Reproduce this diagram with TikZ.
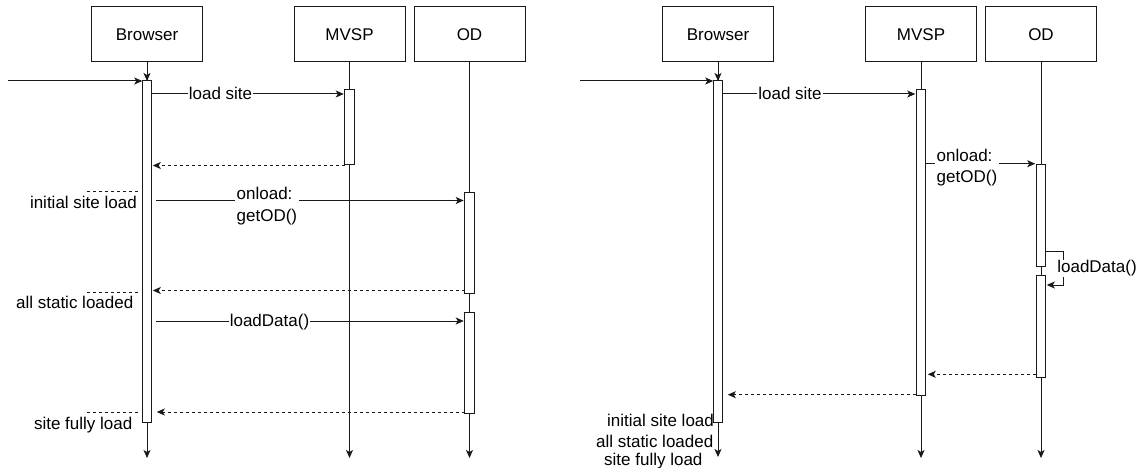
\documentclass[tikz,border=0pt]{standalone}
\usepackage{fontspec}
\setmainfont{Liberation Sans}
\usetikzlibrary{arrows.meta}
\begin{document}
\begin{tikzpicture}[x=1pt,y=-1pt,
  every node/.style={font=\fontsize{17}{21.5}\selectfont},
  line/.style={line width=1pt, draw=black!90},
  actor/.style={draw=black!90, line width=1pt, minimum width=111pt, minimum height=55pt, inner sep=0pt},
  bar/.style={draw=black!90, line width=1pt, fill=white, minimum width=9.5pt, inner sep=0pt, outer sep=0pt, anchor=north},
  msg/.style={line, -{Stealth[length=8pt,width=7pt,inset=2pt]}},
  reply/.style={msg, dash pattern=on 3pt off 3pt},
  marker/.style={line width=1pt, draw=black!90, dash pattern=on 3pt off 3pt},
  lbl/.style={fill=white, inner sep=1pt, text height=12pt, text depth=3.5pt},
  note/.style={inner sep=0pt, text height=12pt, text depth=3.5pt}
]
\useasboundingbox (0,0) rectangle (1142,468);

% ---------- first sequence ----------
\node[actor] (b1) at (147,34.5) {Browser};
\node[actor] (m1) at (349.5,34.5) {MVSP};
\node[actor] (o1) at (469.5,34.5) {OD};
\coordinate (b1end) at (147,458);
\coordinate (m1end) at (349.5,458);
\coordinate (o1end) at (469.5,458);
\draw[msg] (b1.south) -- (b1end);
\draw[msg] (m1.south) -- (m1end);
\draw[msg] (o1.south) -- (o1end);

\node[bar, minimum height=341pt] (bA1) at (147,81) {};
\node[bar, minimum height=74pt] (mA1) at (349.5,90) {};
\node[bar, minimum height=101pt] (oA1) at (469.5,192) {};
\node[bar, minimum height=101pt] (oA2) at (469.5,312) {};

\draw[msg] (b1.south) -- (bA1.north);
\coordinate (in1) at (8,81);
\draw[msg] (in1) -- (bA1.north west);

\draw[msg] (bA1.east |- 0,94) -- ([xshift=-1pt]mA1.west |- 0,94);
\node[lbl] (l1) at (220.5,95.5) {load site};
\draw[reply] (mA1.west |- 0,165.5) -- ([xshift=1pt]bA1.east |- 0,165.5);

\draw[marker] (87,191.3) -- (140,191.3);
\node[note, anchor=east] (n1) at (137,204) {initial site load};
\draw[msg] ([xshift=4pt]bA1.east |- 0,200.5) -- ([xshift=-1pt]oA1.west |- 0,200.5);
\node[fill=white, inner sep=1.5pt, align=left, anchor=west] (l2) at (235,206) {onload:\\getOD()};

\draw[reply] (oA1.west |- 0,290.5) -- ([xshift=1pt]bA1.east |- 0,290.5);
\draw[marker] (87,292) -- (140,292);
\node[note, anchor=east] (n2) at (133.5,304.5) {all static loaded};

\draw[msg] ([xshift=4.5pt]bA1.east |- 0,321) -- ([xshift=-1pt]oA2.west |- 0,321);
\node[lbl] (l3) at (269.5,322.5) {loadData()};

\draw[reply] (oA2.west |- 0,412) -- ([xshift=5pt]bA1.east |- 0,412);
\draw[marker] (87,412.7) -- (140,412.7);
\node[note, anchor=east] (n3) at (132.5,425.5) {site fully load};

% ---------- second sequence ----------
\node[actor] (b2) at (718,34.5) {Browser};
\node[actor] (m2) at (921,34.5) {MVSP};
\node[actor] (o2) at (1041,34.5) {OD};
\coordinate (b2end) at (718,457);
\coordinate (m2end) at (921,458);
\coordinate (o2end) at (1041,458);
\draw[msg] (b2.south) -- (b2end);
\draw[msg] (m2.south) -- (m2end);
\draw[msg] (o2.south) -- (o2end);

\node[bar, minimum height=341pt] (bA2) at (718,81) {};
\node[bar, minimum height=305pt] (mA2) at (921,90) {};
\node[bar, minimum height=102pt] (oA3) at (1041,164) {};
\node[bar, minimum height=102pt] (oA4) at (1041,275) {};

\draw[msg] (b2.south) -- (bA2.north);
\coordinate (in2) at (580,81);
\draw[msg] (in2) -- (bA2.north west);

\draw[msg] (bA2.east |- 0,94) -- ([xshift=-1pt]mA2.west |- 0,94);
\node[lbl] (l4) at (790,95.5) {load site};

\draw[msg] (mA2.east |- 0,163.7) -- ([xshift=-1pt]oA3.west |- 0,163.7);
\node[fill=white, inner sep=1.5pt, align=left, anchor=west] (l5) at (935,167.5) {onload:\\getOD()};

\draw[msg] (oA3.east |- 0,251) -- ++(18,0) |- ([xshift=1pt]oA4.east |- 0,285);
\node[lbl] (l6) at (1097,268.5) {loadData()};

\draw[reply] (oA4.west |- 0,374.3) -- ([xshift=2pt]mA2.east |- 0,374.3);
\draw[reply] (mA2.west |- 0,394.7) -- ([xshift=5pt]bA2.east |- 0,394.7);

\node[note] (n4) at (660.5,422.5) {initial site load};
\node[note] (n5) at (654.7,443.2) {all static loaded};
\node[note] (n6) at (653.3,460.8) {site fully load};
\end{tikzpicture}
\end{document}
